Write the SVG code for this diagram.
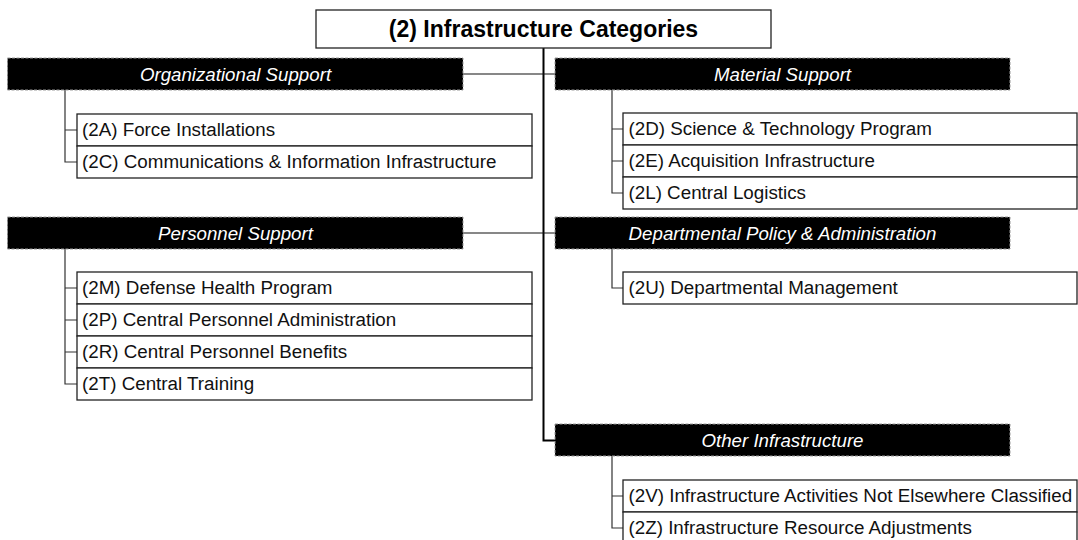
<svg xmlns="http://www.w3.org/2000/svg" width="1078" height="540" viewBox="0 0 1078 540">
<style>
.bg{fill:#ffffff}
.title{fill:#ffffff;stroke:#222;stroke-width:1.3}
.titletext{font-family:"Liberation Sans",Arial,sans-serif;font-size:23px;font-weight:bold;fill:#000;text-anchor:middle}
.bar{fill:#000;stroke:#9a9a9a;stroke-width:1;stroke-dasharray:3 1.5}
.bartext{font-family:"Liberation Sans",Arial,sans-serif;font-size:18.7px;font-style:italic;fill:#fff;text-anchor:middle}
.box{fill:#fff;stroke:#222;stroke-width:1.3}
.boxtext{font-family:"Liberation Sans",Arial,sans-serif;font-size:18.8px;fill:#111}
.trunk{stroke:#000;stroke-width:2;fill:none}
.link{stroke:#111;stroke-width:1.2;fill:none}
.branch{stroke:#333;stroke-width:1.2;fill:none}
</style>
<rect class="bg" x="0" y="0" width="1078" height="540"/>

<g id="connectors">
  <path class="trunk" d="M543.5 48 V440.5 H555"/>
  <path class="link" d="M463 74 H555"/>
  <path class="link" d="M463 233 H555"/>
  <path class="branch" d="M65 90 V162 H77 M65 130 H77"/>
  <path class="branch" d="M65 249 V384 H77 M65 288 H77 M65 320 H77 M65 352 H77"/>
  <path class="branch" d="M612 90 V193 H623 M612 129 H623 M612 161 H623"/>
  <path class="branch" d="M612 249 V288 H623"/>
  <path class="branch" d="M612 456 V528 H623 M612 496 H623"/>
</g>

<g id="root">
  <rect class="title" x="316" y="10" width="455" height="38"/>
  <text class="titletext" x="543.5" y="37">(2) Infrastructure Categories</text>
</g>

<g id="organizational-support">
  <rect class="bar" x="7.5" y="58" width="455.5" height="32"/>
  <text class="bartext" x="235.5" y="80.5">Organizational Support</text>
</g>
<g id="n2A">
  <rect class="box" x="77" y="114" width="455" height="32"/>
  <text class="boxtext" x="82" y="136">(2A) Force Installations</text>
</g>
<g id="n2C">
  <rect class="box" x="77" y="146" width="455" height="32"/>
  <text class="boxtext" x="82" y="168">(2C) Communications &amp; Information Infrastructure</text>
</g>

<g id="material-support">
  <rect class="bar" x="555" y="58" width="455" height="32"/>
  <text class="bartext" x="782.5" y="80.5">Material Support</text>
</g>
<g id="n2D">
  <rect class="box" x="623" y="113" width="454" height="32"/>
  <text class="boxtext" x="628.5" y="135">(2D) Science &amp; Technology Program</text>
</g>
<g id="n2E">
  <rect class="box" x="623" y="145" width="454" height="32"/>
  <text class="boxtext" x="628.5" y="167">(2E) Acquisition Infrastructure</text>
</g>
<g id="n2L">
  <rect class="box" x="623" y="177" width="454" height="32"/>
  <text class="boxtext" x="628.5" y="199">(2L) Central Logistics</text>
</g>

<g id="personnel-support">
  <rect class="bar" x="7.5" y="217" width="455.5" height="32"/>
  <text class="bartext" x="235.5" y="239.5">Personnel Support</text>
</g>
<g id="n2M">
  <rect class="box" x="77" y="272" width="455" height="32"/>
  <text class="boxtext" x="82" y="294">(2M) Defense Health Program</text>
</g>
<g id="n2P">
  <rect class="box" x="77" y="304" width="455" height="32"/>
  <text class="boxtext" x="82" y="326">(2P) Central Personnel Administration</text>
</g>
<g id="n2R">
  <rect class="box" x="77" y="336" width="455" height="32"/>
  <text class="boxtext" x="82" y="358">(2R) Central Personnel Benefits</text>
</g>
<g id="n2T">
  <rect class="box" x="77" y="368" width="455" height="32"/>
  <text class="boxtext" x="82" y="390">(2T) Central Training</text>
</g>

<g id="departmental-policy">
  <rect class="bar" x="555" y="217" width="455" height="32"/>
  <text class="bartext" x="782.5" y="239.5">Departmental Policy &amp; Administration</text>
</g>
<g id="n2U">
  <rect class="box" x="623" y="272" width="454" height="32"/>
  <text class="boxtext" x="628.5" y="294">(2U) Departmental Management</text>
</g>

<g id="other-infrastructure">
  <rect class="bar" x="555" y="424" width="455" height="32"/>
  <text class="bartext" x="782.5" y="446.5">Other Infrastructure</text>
</g>
<g id="n2V">
  <rect class="box" x="623" y="480" width="454" height="32"/>
  <text class="boxtext" x="628.5" y="502">(2V) Infrastructure Activities Not Elsewhere Classified</text>
</g>
<g id="n2Z">
  <rect class="box" x="623" y="512" width="454" height="32"/>
  <text class="boxtext" x="628.5" y="534">(2Z) Infrastructure Resource Adjustments</text>
</g>
</svg>
